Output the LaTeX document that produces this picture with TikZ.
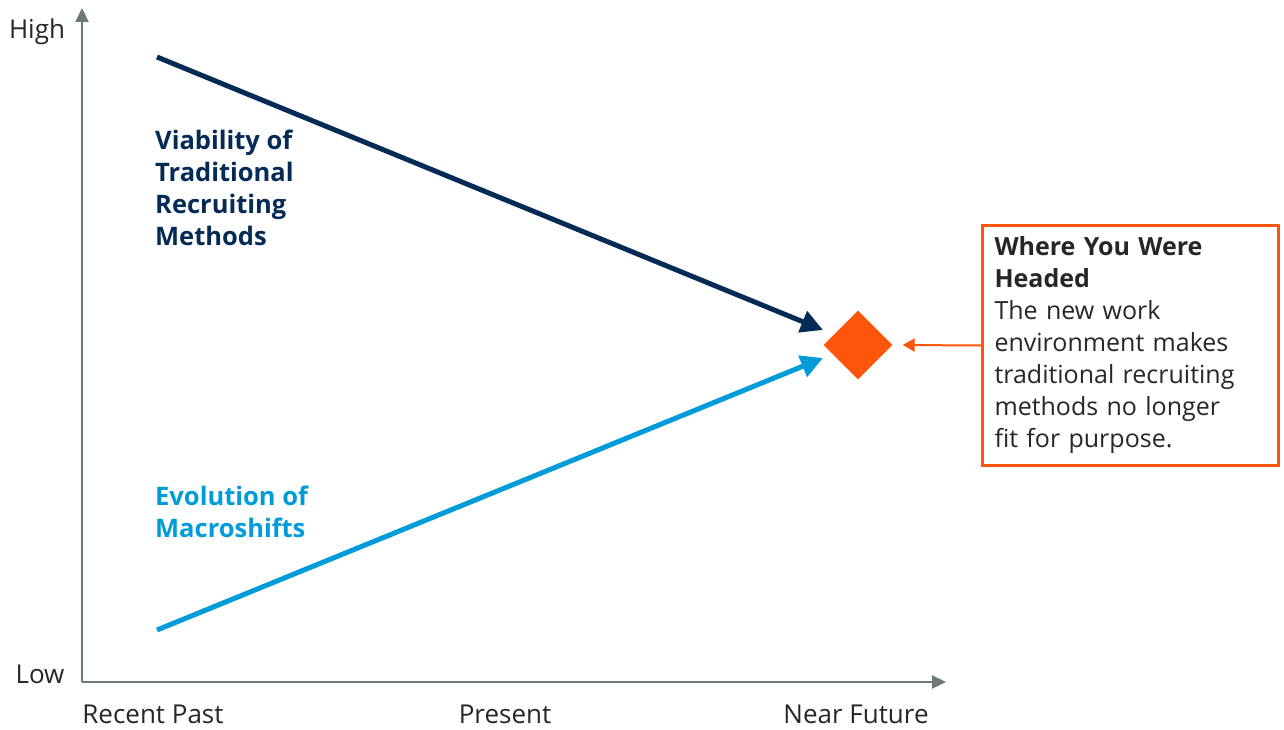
\documentclass[tikz,border=0pt]{standalone}
\usepackage{fontspec}
\setmainfont{Open Sans}
\usetikzlibrary{arrows.meta,shapes.geometric}
\definecolor{navy}{RGB}{4,42,86}
\definecolor{sky}{RGB}{0,156,218}
\definecolor{flame}{RGB}{255,85,10}
\definecolor{axisgray}{RGB}{110,122,122}
\tikzset{
  axisline/.style={line width=2.2pt,axisgray,-{Triangle[length=14pt,width=13pt]}},
  trend/.style={line width=5pt,-{Triangle[length=22pt,width=22pt]}},
  lbl/.style={font=\fontsize{26}{32}\selectfont,text=black!85},
  trendlbl/.style={font=\fontsize{25.5}{32}\selectfont\bfseries,align=left,anchor=west,inner sep=0pt}
}
\begin{document}
\begin{tikzpicture}[x=1pt,y=-1pt]
  \useasboundingbox (0,0) rectangle (1284,730);
  % axes, pixel coordinates with y downwards
  \coordinate (origin) at (82,682);
  \coordinate (ytop) at (82,8);
  \coordinate (xend) at (946,682);
  \draw[axisline] (origin) -- (ytop);
  \draw[axisline] (origin) -- (xend);
  \node[lbl] (high) at (37,32) {High};
  \node[lbl] (low) at (40,674) {Low};
  \foreach \x/\lab/\nm in {153/Recent Past/past,505/Present/now,856/Near Future/future}{\node[lbl] (\nm) at (\x,714) {\lab};}
  % target and trends
  \node[diamond,fill=flame,minimum size=69pt,inner sep=0pt] (goal) at (858,345) {};
  \coordinate (viaStart) at (157,57);
  \coordinate (viaEnd) at (823,330);
  \coordinate (evoStart) at (157,630);
  \coordinate (evoEnd) at (823,358);
  \draw[trend,navy] (viaStart) -- (viaEnd);
  \draw[trend,sky] (evoStart) -- (evoEnd);
  \node[trendlbl,text=navy] (via) at (155,188) {Viability of\\Traditional\\Recruiting\\Methods};
  \node[trendlbl,text=sky] (evo) at (155,512) {Evolution of\\Macroshifts};
  % call-out box
  \node[draw=flame,line width=3pt,anchor=north west,text width=272pt,align=left,inner xsep=12pt,inner ysep=11.5pt,
    font=\fontsize{25}{32}\selectfont,text=black!85] (note) at (981,224)
    {\textbf{Where You Were}\\\textbf{Headed}\\The new work\\environment makes\\traditional recruiting\\methods no longer\\fit for purpose.};
  \draw[flame,line width=2pt,-{Triangle[length=12pt,width=13pt]}] (note.west) -- ([xshift=10pt]goal.east);
\end{tikzpicture}
\end{document}
